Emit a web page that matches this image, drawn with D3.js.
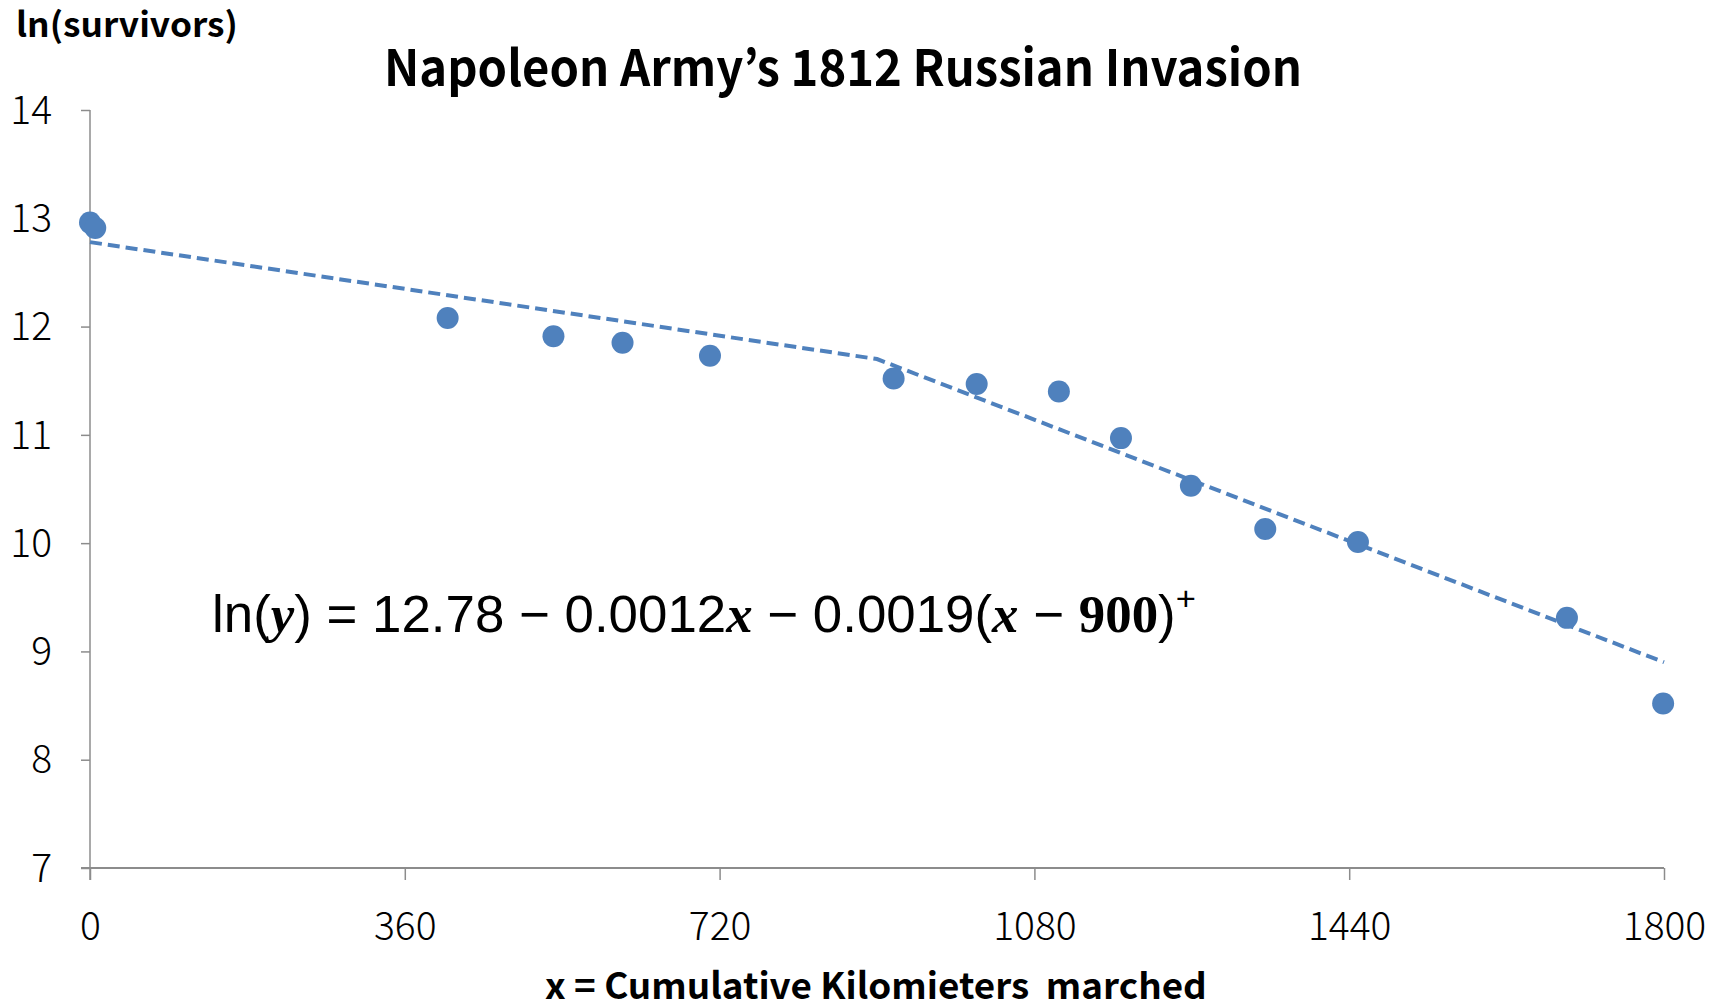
<!DOCTYPE html>
<html>
<head>
<meta charset="utf-8">
<script src="https://cdn.jsdelivr.net/npm/d3@7"></script>
<style>
  body { margin: 0; background: #fff; }
  svg text { fill: #000; }
</style>
</head>
<body>
<div id="chart"></div>
<script>
// observed points: cumulative km marched vs ln(survivors)
var km = [0, 6, 409, 530, 609, 709, 919, 1014, 1108, 1179, 1259, 1344, 1450, 1689, 1799];
var lnSurv = [12.96, 12.91, 12.08, 11.91, 11.85, 11.73, 11.52, 11.47, 11.40, 10.97, 10.53, 10.13, 10.01, 9.31, 8.52];

// fitted piecewise line (knot at 900 km)
var fitKm = [0, 900, 1800];
var fitLn = [12.78, 11.70, 8.90];

var xTicks = [0, 360, 720, 1080, 1440, 1800];
var yTicks = [7, 8, 9, 10, 11, 12, 13, 14];

var W = 1721, H = 1008;
var blue = '#4f81bd';
var axisGrey = '#8c8c8c';
var sans = "'Noto Sans CJK KR', 'Noto Sans', sans-serif";

var svg = d3.select('#chart').append('svg')
    .attr('width', W)
    .attr('height', H);

var xScale = d3.scaleLinear().domain([0, 1800]).range([90, 1664]);
var yScale = d3.scaleLinear().domain([7, 14]).range([868, 110]);

// squeeze/stretch a text to a given width
function fitWidth(t, x, y, w, anchor) {
  var bb = t.node().getBBox();
  var k = w / bb.width;
  var x0 = anchor == 'middle' ? x - w / 2 : (anchor == 'end' ? x - w : x);
  t.attr('x', 0).attr('y', 0)
   .attr('text-anchor', 'start')
   .attr('transform', 'translate(' + (x0 - bb.x * k) + ',' + y + ') scale(' + k + ',1)');
}

// y axis
var yAxis = svg.append('g')
    .attr('transform', 'translate(' + xScale(0) + ',0)')
    .call(d3.axisLeft(yScale).tickValues(yTicks).tickSize(9).tickPadding(30).tickFormat(d3.format('d')));
yAxis.select('.domain').attr('stroke', axisGrey).attr('stroke-width', 1.5).attr('d', 'M0,' + yScale(14) + 'V' + (yScale(7) + 12));
yAxis.selectAll('.tick line').attr('stroke', axisGrey).attr('stroke-width', 1.5);
yAxis.selectAll('.tick text')
    .style('font-family', sans)
    .style('font-size', '39px')
    .style('font-weight', 300)
    .attr('x', -(xScale(0) - 52))
    .attr('dy', '0.34em');

// x axis
var xAxis = svg.append('g')
    .attr('transform', 'translate(0,' + yScale(7) + ')')
    .call(d3.axisBottom(xScale).tickValues(xTicks).tickSize(12).tickPadding(30).tickFormat(d3.format('d')));
xAxis.select('.domain').attr('stroke', axisGrey).attr('stroke-width', 2).attr('d', 'M' + (xScale(0) - 9) + ',0H' + xScale(1800));
xAxis.selectAll('.tick line').attr('stroke', axisGrey).attr('stroke-width', 1.5);
xAxis.selectAll('.tick text')
    .style('font-family', sans)
    .style('font-size', '39px')
    .style('font-weight', 300)
    .attr('y', 0)
    .attr('dy', (940 - yScale(7)) + 'px');
yAxis.selectAll('.tick text, .domain').raise();
svg.selectAll('.tick text').attr('fill', '#000');

// fitted line
var fit = fitKm.map(function(d, i) { return [d, fitLn[i]]; });
svg.append('path')
    .datum(fit)
    .attr('fill', 'none')
    .attr('stroke', blue)
    .attr('stroke-width', 4)
    .attr('stroke-dasharray', '12,6')
    .attr('d', d3.line()
        .x(function(d) { return xScale(d[0]); })
        .y(function(d) { return yScale(d[1]); }));

// points
var pts = km.map(function(d, i) { return {km: d, v: lnSurv[i]}; });
svg.selectAll('.pt')
    .data(pts)
    .enter().append('circle')
      .attr('class', 'pt')
      .attr('cx', function(d) { return xScale(d.km); })
      .attr('cy', function(d) { return yScale(d.v); })
      .attr('r', 11)
      .attr('fill', blue);

// titles
var yTitle = svg.append('text')
    .style('font-family', sans).style('font-weight', 'bold').style('font-size', '34px')
    .text('ln(survivors)');
fitWidth(yTitle, 16, 37, 222, 'start');

var title = svg.append('text')
    .style('font-family', sans).style('font-weight', 'bold').style('font-size', '50px')
    .text('Napoleon Army\u2019s 1812 Russian Invasion');
fitWidth(title, 843, 86, 918, 'middle');

var xTitle = svg.append('text')
    .style('font-family', sans).style('font-weight', 'bold').style('font-size', '36px')
    .attr('xml:space', 'preserve')
    .style('white-space', 'pre')
    .text('x = Cumulative Kilomieters  marched');
fitWidth(xTitle, 876, 999, 662, 'middle');

// equation
var eqSans = "'Liberation Sans Narrow', 'Liberation Sans', Arial, sans-serif";
var eqSerif = "'Liberation Serif', 'DejaVu Serif', serif";
var eq = svg.append('text')
    .style('font-family', eqSans)
    .style('font-size', '52px')
    .style('white-space', 'pre');
var parts = [
  {t: 'ln(', f: eqSans},
  {t: 'y', f: eqSerif, it: true, b: true},
  {t: ') = 12.78 \u2212 0.0012', f: eqSans},
  {t: 'x', f: eqSerif, it: true, b: true},
  {t: ' \u2212 0.0019(', f: eqSans},
  {t: 'x', f: eqSerif, it: true, b: true},
  {t: ' \u2212 ', f: eqSans},
  {t: '900', f: eqSerif, b: true},
  {t: ')', f: eqSans}
];
parts.forEach(function(p) {
  eq.append('tspan')
    .style('font-family', p.f)
    .style('font-style', p.it ? 'italic' : 'normal')
    .style('font-weight', p.b ? 'bold' : 'normal')
    .text(p.t);
});
eq.append('tspan')
    .attr('dy', '-22')
    .style('font-size', '34px')
    .text('+');
fitWidth(eq, 212, 632, 984, 'start');
</script>
</body>
</html>
